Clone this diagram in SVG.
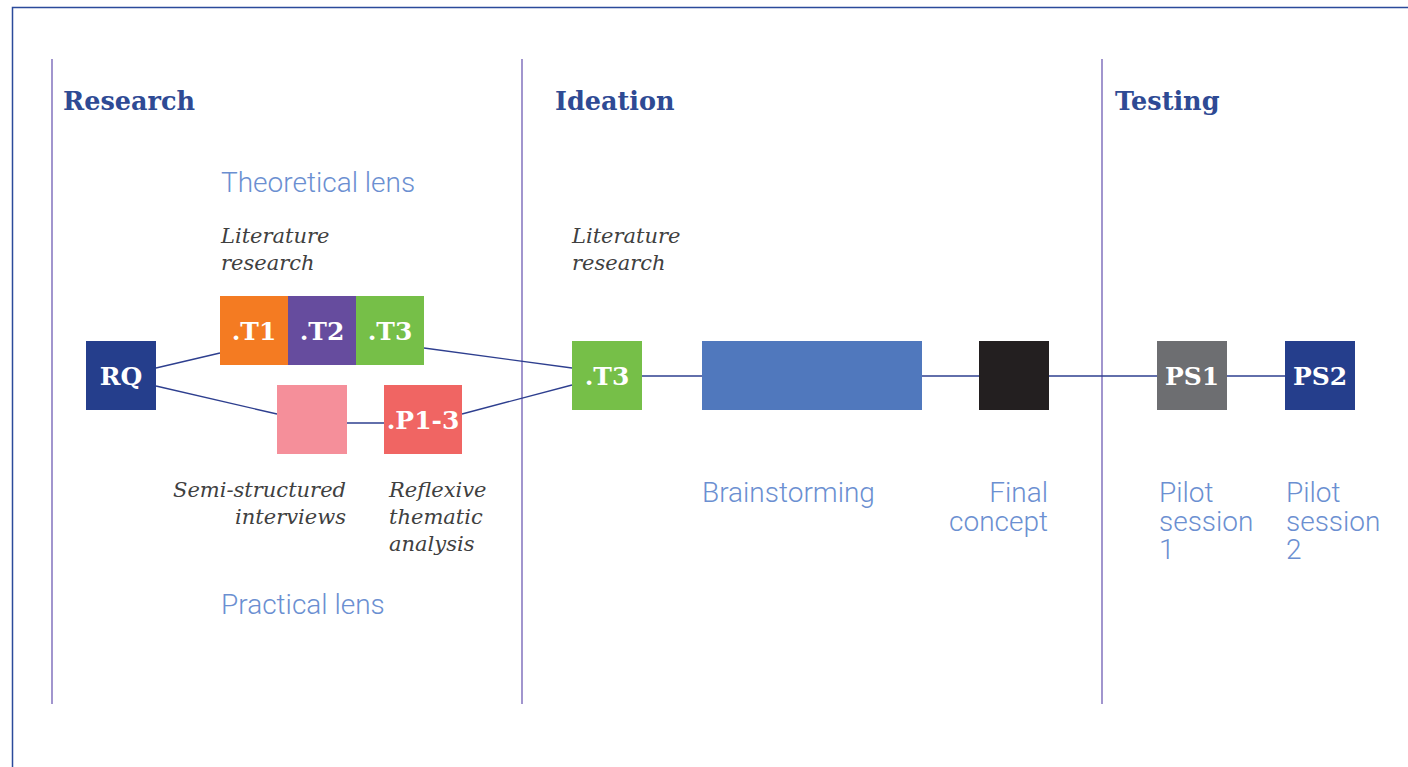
<svg xmlns="http://www.w3.org/2000/svg" width="1408" height="767" viewBox="0 0 1408 767">
<style>
.frame{fill:none;stroke:#2B4A9B;stroke-width:1.5}
.div{stroke:#8A7BC2;stroke-width:1.6}
.head{font-family:"DejaVu Serif","Liberation Serif",serif;font-weight:bold;font-size:25.5px;fill:#2E4A94}
.lens{font-family:Roboto,"Liberation Sans",sans-serif;font-weight:300;font-size:28px;fill:#6B8FD1}
.it{font-family:"DejaVu Serif","Liberation Serif",serif;font-style:italic;font-size:21px;fill:#404040}
.lab{font-family:"DejaVu Serif","Liberation Serif",serif;font-weight:bold;font-size:25px;fill:#fff;text-anchor:middle}
.conn line{stroke:#2E3F8F;stroke-width:1.4}
</style>
<rect x="0" y="0" width="1408" height="767" fill="#fff"/>
<rect class="frame" x="12.5" y="7.5" width="1420" height="800"/>
<g id="dividers">
<line class="div" x1="52" y1="59" x2="52" y2="704"/>
<line class="div" x1="522" y1="59" x2="522" y2="704"/>
<line class="div" x1="1102" y1="59" x2="1102" y2="704"/>
</g>
<g id="headers">
<text class="head" x="63" y="110">Research</text>
<text class="head" x="555" y="110">Ideation</text>
<text class="head" x="1115" y="110">Testing</text>
</g>
<g class="conn" id="connectors">
<line x1="156" y1="368" x2="220" y2="353"/>
<line x1="156" y1="386" x2="277" y2="414"/>
<line x1="347" y1="423" x2="384" y2="423"/>
<line x1="424" y1="348" x2="572" y2="368"/>
<line x1="462" y1="414" x2="572" y2="385"/>
<line x1="642" y1="376" x2="702" y2="376"/>
<line x1="922" y1="376" x2="979" y2="376"/>
<line x1="1049" y1="376" x2="1157" y2="376"/>
<line x1="1227" y1="376" x2="1285" y2="376"/>
</g>
<g id="rq"><rect x="86" y="341" width="70" height="69" fill="#253E8C"/><text class="lab" x="121" y="385">RQ</text></g>
<g id="t1"><rect x="220" y="296" width="68" height="69" fill="#F47B22"/><text class="lab" x="254" y="340">.T1</text></g>
<g id="t2"><rect x="288" y="296" width="68" height="69" fill="#664C9E"/><text class="lab" x="322" y="340">.T2</text></g>
<g id="t3"><rect x="356" y="296" width="68" height="69" fill="#76BF48"/><text class="lab" x="390" y="340">.T3</text></g>
<g id="interviews"><rect x="277" y="385" width="70" height="69" fill="#F58F9A"/></g>
<g id="p13"><rect x="384" y="385" width="78" height="69" fill="#F06563"/><text class="lab" x="423" y="429">.P1-3</text></g>
<g id="t3b"><rect x="572" y="341" width="70" height="69" fill="#76BF48"/><text class="lab" x="607" y="385">.T3</text></g>
<g id="brainstorm"><rect x="702" y="341" width="220" height="69" fill="#5078BD"/></g>
<g id="final"><rect x="979" y="341" width="70" height="69" fill="#231F20"/></g>
<g id="ps1"><rect x="1157" y="341" width="70" height="69" fill="#6D6E71"/><text class="lab" x="1192" y="385">PS1</text></g>
<g id="ps2"><rect x="1285" y="341" width="70" height="69" fill="#253E8C"/><text class="lab" x="1320" y="385">PS2</text></g>
<g id="labels">
<text class="lens" x="221" y="192">Theoretical lens</text>
<text class="it" x="221" y="243">Literature</text>
<text class="it" x="221" y="270">research</text>
<text class="it" x="572" y="243">Literature</text>
<text class="it" x="572" y="270">research</text>
<text class="it" x="346" y="497" text-anchor="end">Semi-structured</text>
<text class="it" x="346" y="524" text-anchor="end">interviews</text>
<text class="it" x="389" y="497">Reflexive</text>
<text class="it" x="389" y="524">thematic</text>
<text class="it" x="389" y="551">analysis</text>
<text class="lens" x="221" y="614">Practical lens</text>
<text class="lens" x="702" y="502">Brainstorming</text>
<text class="lens" x="1048" y="502" text-anchor="end">Final</text>
<text class="lens" x="1048" y="531" text-anchor="end">concept</text>
<text class="lens" x="1159" y="502">Pilot</text>
<text class="lens" x="1159" y="531">session</text>
<text class="lens" x="1159" y="559">1</text>
<text class="lens" x="1286" y="502">Pilot</text>
<text class="lens" x="1286" y="531">session</text>
<text class="lens" x="1286" y="559">2</text>
</g>
</svg>
